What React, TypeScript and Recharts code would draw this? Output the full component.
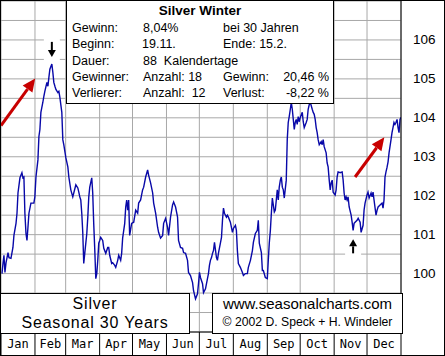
import { LineChart, Line, XAxis, YAxis, CartesianGrid, ReferenceLine } from "recharts";

const monthNames = ["Jan", "Feb", "Mar", "Apr", "May", "Jun", "Jul", "Aug", "Sep", "Oct", "Nov", "Dec"];
const monthStarts = [0, 31, 59, 90, 120, 151, 181, 212, 243, 273, 304, 334, 365];
const yGridTicks = [98.5, 99, 99.5, 100, 100.5, 101, 101.5, 102, 102.5, 103, 103.5, 104, 104.5, 105, 105.5, 106, 106.5, 107];
const yLabels = [100, 101, 102, 103, 104, 105, 106];

// day of year
const days = [
  0.9, 1.8, 2.7, 3.6, 4.6, 6.4, 7.3, 9.1, 10.9, 11.8, 13.7, 14.6, 15.5, 17.3, 19.1, 20.0, 20.9, 21.8, 22.8, 23.7,
  24.6, 25.5, 27.3, 30.0, 30.9, 31.9, 33.7, 34.6, 35.5, 36.4, 38.2, 39.1, 40.0, 41.9, 42.8, 43.7, 44.6, 46.4, 47.3, 48.2,
  49.2, 50.1, 51.9, 52.8, 53.7, 55.5, 56.4, 57.3, 59.2, 61.0, 61.9, 63.7, 65.5, 66.4, 68.3, 70.1, 71.0, 71.9, 72.8, 73.7,
  74.6, 75.5, 76.5, 78.3, 79.2, 80.1, 81.0, 82.8, 83.7, 84.6, 85.6, 86.5, 87.4, 88.3, 89.2, 90.1, 91.0, 92.8, 93.8, 95.6,
  97.4, 98.3, 99.2, 101.0, 101.9, 103.8, 104.7, 106.5, 107.4, 109.2, 110.1, 111.0, 112.9, 113.8, 114.7, 115.6, 116.5, 117.4, 119.2, 121.1,
  122.9, 124.7, 125.6, 127.4, 129.2, 130.2, 132.0, 133.8, 134.7, 136.5, 138.4, 139.3, 141.1, 142.9, 143.8, 145.6, 147.5, 148.4, 150.2, 152.0,
  152.9, 154.7, 156.5, 157.5, 159.3, 161.1, 162.0, 163.8, 165.7, 166.6, 168.4, 170.2, 171.1, 172.9, 174.8, 175.7, 177.5, 179.3, 180.2, 181.1,
  182.0, 183.9, 184.8, 186.6, 188.4, 189.3, 190.2, 191.1, 192.1, 193.0, 193.9, 194.8, 196.6, 197.5, 198.4, 200.2, 201.2, 202.1, 203.0, 203.9,
  205.7, 206.6, 207.5, 209.3, 211.2, 212.1, 213.9, 214.8, 215.7, 216.6, 218.4, 220.3, 221.2, 223.0, 224.8, 225.7, 227.6, 229.4, 230.3, 232.1,
  233.9, 234.8, 235.7, 237.6, 238.5, 239.4, 241.2, 243.0, 243.9, 244.8, 245.8, 246.7, 247.6, 248.5, 249.4, 250.3, 251.2, 252.1, 253.0, 253.9,
  254.9, 255.8, 256.7, 257.6, 258.5, 260.3, 261.2, 262.1, 263.0, 264.0, 264.9, 265.8, 266.7, 267.6, 268.5, 269.4, 270.3, 271.2, 272.1, 273.1,
  274.9, 275.8, 276.7, 278.5, 279.4, 280.3, 281.3, 282.2, 284.0, 284.9, 285.8, 286.7, 287.6, 288.5, 289.4, 290.4, 292.2, 293.1, 294.0, 294.9,
  296.7, 297.6, 298.5, 299.5, 300.4, 301.3, 302.2, 303.1, 304.9, 305.8, 306.7, 307.6, 309.5, 311.3, 312.2, 313.1, 314.0, 314.9, 315.8, 316.7,
  317.7, 319.5, 320.4, 321.3, 322.2, 323.1, 324.9, 325.9, 327.7, 328.6, 330.4, 331.3, 332.2, 334.0, 334.9, 335.9, 337.7, 338.6, 339.5, 340.4,
  342.2, 343.2, 344.1, 345.9, 347.7, 348.6, 349.5, 350.4, 351.3, 352.2, 353.2, 354.1, 355.9, 356.8, 357.7, 358.6, 359.5, 360.4, 361.4, 362.3,
  363.2, 364.1, 365.0,
];

// seasonal index, 30-year average
const silverIndex = [
  100.0, 100.26, 100.47, 100.03, 100.28, 100.54, 100.41, 100.39, 100.67, 100.98, 101.29, 101.55, 102.07, 102.46, 102.59, 102.46, 102.48, 101.55, 101.03, 100.85,
  101.19, 101.55, 101.81, 101.81, 101.97, 102.48, 102.92, 103.52, 103.7, 104.14, 104.4, 104.55, 104.68, 104.91, 104.81, 105.04, 105.25, 105.38, 105.17, 104.91,
  104.81, 104.73, 104.65, 104.68, 104.53, 104.14, 103.44, 103.31, 102.97, 102.74, 102.48, 102.15, 101.97, 102.07, 102.28, 102.2, 102.09, 101.97, 101.89, 101.55,
  101.06, 100.26, 100.54, 101.03, 101.45, 101.97, 102.22, 102.46, 102.07, 101.29, 100.59, 99.87, 100.0, 100.34, 100.78, 100.85, 100.93, 100.85, 100.65, 100.52,
  100.67, 100.67, 100.47, 100.26, 100.28, 100.21, 100.16, 100.34, 100.47, 100.34, 100.52, 100.91, 101.29, 101.71, 101.89, 101.63, 101.89, 100.98, 101.29, 101.32,
  101.63, 101.55, 101.81, 101.89, 102.15, 102.22, 102.48, 102.66, 102.53, 102.33, 102.07, 101.81, 101.55, 101.19, 101.06, 100.91, 100.98, 101.29, 101.42, 101.19,
  100.98, 101.45, 101.76, 101.84, 101.71, 101.45, 100.85, 100.67, 100.65, 100.54, 100.52, 100.34, 100.03, 99.95, 99.77, 99.56, 99.35, 99.48, 99.74, 100.03,
  99.9, 99.74, 99.51, 99.61, 99.87, 100.0, 100.21, 100.34, 100.41, 100.52, 100.59, 100.8, 100.41, 100.34, 100.52, 100.78, 100.93, 101.37, 101.68, 101.55,
  101.45, 101.5, 101.45, 101.32, 101.06, 101.16, 101.24, 101.11, 100.59, 100.26, 100.16, 100.03, 99.95, 100.0, 100.0, 100.16, 100.34, 100.59, 100.8, 101.03,
  101.11, 101.37, 100.78, 100.54, 100.08, 100.08, 99.9, 99.87, 100.34, 100.78, 101.11, 101.55, 101.94, 101.76, 101.58, 101.63, 101.89, 102.15, 101.89, 102.22,
  102.4, 102.48, 102.22, 102.15, 101.94, 102.4, 103.44, 103.88, 104.03, 104.22, 104.4, 104.22, 103.96, 103.7, 103.88, 103.96, 103.83, 104.03, 103.9, 104.01,
  104.14, 103.9, 103.75, 103.88, 103.96, 104.22, 104.34, 104.4, 104.22, 104.14, 104.09, 103.96, 103.75, 103.62, 103.44, 103.31, 103.39, 103.31, 103.44, 103.26,
  103.1, 102.84, 102.74, 102.4, 102.15, 102.33, 102.4, 102.09, 102.02, 102.15, 102.48, 102.61, 102.59, 102.61, 102.4, 102.07, 101.89, 101.97, 101.89, 101.97,
  101.71, 101.5, 101.32, 101.11, 101.29, 101.32, 101.37, 101.42, 101.32, 101.06, 101.24, 101.63, 101.81, 102.02, 102.09, 101.94, 102.07, 101.97, 102.09, 101.89,
  101.5, 101.63, 101.71, 101.76, 101.81, 101.68, 101.89, 102.48, 102.61, 102.72, 102.87, 103.1, 103.44, 103.62, 103.75, 103.88, 103.83, 103.88, 103.96, 103.75,
  103.62, 103.96, 104.01,
];

const redArrows = [
  [{ x: 0, y: 103.8 }, { x: 31.2, y: 105.01 }],
  [{ x: 323.1, y: 102.48 }, { x: 349.8, y: 103.5 }],
];
const blackArrows = [
  [{ x: 46.4, y: 105.95 }, { x: 46.4, y: 105.56 }],
  [{ x: 321.3, y: 100.52 }, { x: 321.3, y: 100.88 }],
];

const data = days.map((day, i) => ({ day, value: silverIndex[i] }));
const monthMids = monthNames.map((_, i) => (monthStarts[i] + monthStarts[i + 1]) / 2);

const SANS = "'Liberation Sans', Arial, sans-serif";
const MONO = "'DejaVu Sans Mono', monospace";

function ArrowShape(props: any) {
  const { x1, y1, x2, y2, color, width, headLen, headHalf, mask } = props;
  const a = Math.atan2(y2 - y1, x2 - x1);
  const bx = x2 - headLen * Math.cos(a);
  const by = y2 - headLen * Math.sin(a);
  const nx = -Math.sin(a) * headHalf;
  const ny = Math.cos(a) * headHalf;
  return (
    <g>
      {mask && (
        <rect
          x={Math.min(x1, x2) - 8}
          y={Math.min(y1, y2) - 3}
          width={Math.abs(x2 - x1) + 16}
          height={Math.abs(y2 - y1) + 6}
          fill="#fff"
        />
      )}
      <line x1={x1} y1={y1} x2={bx} y2={by} stroke={color} strokeWidth={width} />
      <polygon points={`${x2},${y2} ${bx + nx},${by + ny} ${bx - nx},${by - ny}`} fill={color} />
    </g>
  );
}

function YTick({ x, y, payload }: any) {
  if (!yLabels.includes(payload.value)) return <g />;
  return (
    <text x={x + 4} y={y} dominantBaseline="central" fontFamily={SANS} fontSize={13.5} fill="#000">
      {payload.value}
    </text>
  );
}

function MonthTick({ x, index }: any) {
  return (
    <text x={x} y={343} textAnchor="middle" dominantBaseline="central" fontFamily={MONO} fontSize={12} fill="#000">
      {monthNames[index]}
    </text>
  );
}

const cell: React.CSSProperties = { position: "absolute", whiteSpace: "pre", lineHeight: "16px" };

export default function App() {
  return (
    <div
      style={{
        position: "absolute",
        left: 0,
        top: 0,
        width: 445,
        height: 356,
        boxSizing: "border-box",
        border: "1px solid #000",
        background: "#fff",
        overflow: "hidden",
      }}
    >
      <LineChart width={443} height={354} data={data} margin={{ top: 0, right: 0, bottom: 0, left: 0 }}>
        <CartesianGrid stroke="#a8a8a8" strokeWidth={1} />
        <XAxis
          dataKey="day"
          type="number"
          domain={[0, 365]}
          ticks={monthStarts}
          interval={0}
          height={23}
          tickSize={23}
          axisLine={{ stroke: "#000" }}
          tickLine={{ stroke: "#000" }}
          tick={() => <g />}
          allowDataOverflow
        />
        <XAxis
          xAxisId="m"
          dataKey="day"
          type="number"
          domain={[0, 365]}
          ticks={monthMids}
          interval={0}
          height={23}
          mirror
          axisLine={false}
          tickLine={false}
          tick={<MonthTick />}
        />
        <YAxis
          orientation="right"
          width={43}
          domain={[98.5, 107]}
          ticks={yGridTicks}
          interval={0}
          axisLine={{ stroke: "#000" }}
          tickLine={false}
          tick={<YTick />}
          allowDataOverflow
        />
        <Line
          type="linear"
          dataKey="value"
          stroke="#0808a8"
          strokeWidth={1.4}
          dot={false}
          activeDot={false}
          isAnimationActive={false}
        />
        {redArrows.map((seg, i) => (
          <ReferenceLine
            key={`r${i}`}
            segment={seg}
            ifOverflow="visible"
            shape={(p: any) => <ArrowShape {...p} color="#c80000" width={3} headLen={13} headHalf={6} />}
          />
        ))}
        {blackArrows.map((seg, i) => (
          <ReferenceLine
            key={`b${i}`}
            segment={seg}
            ifOverflow="visible"
            shape={(p: any) => <ArrowShape {...p} color="#000" width={2} headLen={7} headHalf={4} mask />}
          />
        ))}
      </LineChart>

      <div
        style={{
          position: "absolute",
          left: 65,
          top: -1,
          width: 268,
          height: 104,
          boxSizing: "border-box",
          border: "1px solid #000",
          background: "#fff",
          fontFamily: SANS,
          fontSize: 12.5,
          color: "#000",
        }}
      >
        <div style={{ ...cell, left: 0, right: 0, top: 2, textAlign: "center", fontWeight: "bold", fontSize: 13.5 }}>
          Silver Winter
        </div>
        <div style={{ ...cell, left: 5, top: 19 }}>Gewinn:</div>
        <div style={{ ...cell, left: 76, top: 19 }}>8,04%</div>
        <div style={{ ...cell, left: 156, top: 19 }}>bei 30 Jahren</div>
        <div style={{ ...cell, left: 5, top: 35 }}>Beginn:</div>
        <div style={{ ...cell, left: 75, top: 35 }}>19.11.</div>
        <div style={{ ...cell, left: 156, top: 35 }}>Ende: 15.2.</div>
        <div style={{ ...cell, left: 5, top: 52 }}>Dauer:</div>
        <div style={{ ...cell, left: 76, top: 52 }}>88  Kalendertage</div>
        <div style={{ ...cell, left: 5, top: 68 }}>Gewinner:</div>
        <div style={{ ...cell, left: 76, top: 68 }}>Anzahl: 18</div>
        <div style={{ ...cell, left: 156, top: 68 }}>Gewinn:</div>
        <div style={{ ...cell, right: 4, top: 68 }}>20,46 %</div>
        <div style={{ ...cell, left: 5, top: 84 }}>Verlierer:</div>
        <div style={{ ...cell, left: 76, top: 84 }}>Anzahl:  12</div>
        <div style={{ ...cell, left: 156, top: 84 }}>Verlust:</div>
        <div style={{ ...cell, right: 4, top: 84 }}>-8,22 %</div>
      </div>

      <div
        style={{
          position: "absolute",
          left: -1,
          top: 292,
          width: 190,
          height: 41,
          boxSizing: "border-box",
          border: "1px solid #000",
          background: "#fff",
          fontFamily: SANS,
          fontSize: 16,
          letterSpacing: 0.8,
          lineHeight: "18.5px",
          textAlign: "center",
          paddingTop: 1,
          color: "#000",
        }}
      >
        <div>Silver</div>
        <div>Seasonal 30 Years</div>
      </div>

      <div
        style={{
          position: "absolute",
          left: 211,
          top: 292,
          width: 191,
          height: 41,
          boxSizing: "border-box",
          border: "1px solid #000",
          background: "#fff",
          fontFamily: SANS,
          textAlign: "center",
          color: "#000",
        }}
      >
        <div style={{ fontSize: 15, lineHeight: "18px", marginTop: 1 }}>www.seasonalcharts.com</div>
        <div style={{ fontSize: 12.2, lineHeight: "18px" }}>© 2002 D. Speck + H. Windeler</div>
      </div>
    </div>
  );
}
